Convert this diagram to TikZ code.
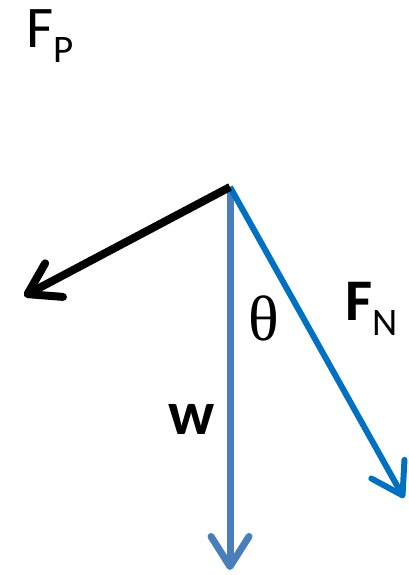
\documentclass[tikz,border=0pt]{standalone}
\usepackage{fontspec}
\setmainfont{Carlito}
\newfontfamily\serifth{Liberation Serif}
\usetikzlibrary{arrows.meta}
\definecolor{wblue}{HTML}{4A7EBB}
\definecolor{nblue}{HTML}{0070C0}
\tikzset{
  vec/.style={line width=#1, line cap=butt, -{Straight Barb[round,length=30pt,width=38pt]}},
  lbl/.style={inner sep=0pt, outer sep=0pt}
}
\begin{document}
\begin{tikzpicture}[x=1pt,y=-1pt]
\useasboundingbox (0,0) rectangle (409,575);
\coordinate (o) at (230,187);
\coordinate (p) at (24,296);
\coordinate (w) at (230,570);
\coordinate (n) at (404,498);
\draw[vec=7pt, wblue] (o) -- (w);
\draw[vec=6pt, nblue] (o) -- (n);
\draw[vec=8pt, black] (o) -- (p);
\node[lbl, anchor=base west, font=\fontsize{59}{60}\selectfont] (fp) at (26,48) {F\raisebox{-15pt}{\fontsize{39}{40}\selectfont P}};
\node[lbl, anchor=base west, font=\fontsize{59}{60}\selectfont\bfseries] (fn) at (345,320) {F\raisebox{-15pt}{\fontsize{39}{40}\selectfont\mdseries N}};
\node[lbl, anchor=base west, font=\fontsize{62}{60}\selectfont\bfseries] (wl) at (168,434) {w};
\node[lbl, anchor=base west, font=\fontsize{64}{60}\selectfont\serifth] (th) at (248,340) {θ};
\end{tikzpicture}
\end{document}
